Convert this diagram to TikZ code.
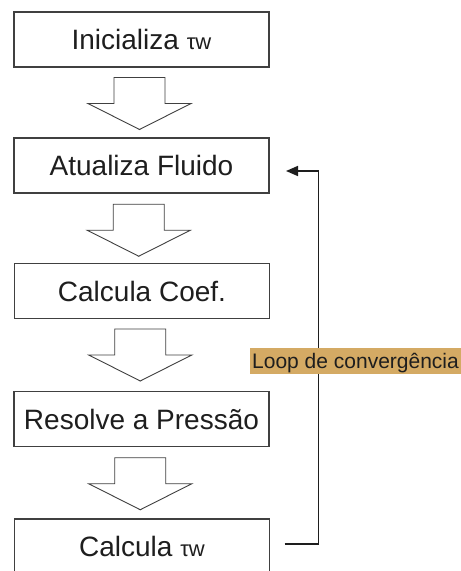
\documentclass[tikz,border=0pt]{standalone}
\usepackage{fontspec}
\setmainfont{Liberation Sans}
\usetikzlibrary{calc,arrows.meta}
\definecolor{labelbg}{RGB}{212,170,100}
\definecolor{boxline}{RGB}{64,64,64}
\definecolor{txt}{RGB}{30,30,30}
\newcommand{\mytauw}{{\fontsize{22}{24}\selectfont τw}}
\begin{document}
\begin{tikzpicture}[x=1pt,y=-1pt,
  stepbox/.style={draw=boxline, line width=1.2pt, minimum width=255pt,
    minimum height=55pt, inner sep=0pt, outer sep=0pt,
    font=\fontsize{28}{30}\selectfont, text height=20pt, text depth=0pt, text=txt},
  arrowline/.style={draw=boxline, line width=0.9pt, fill=white, line join=miter},
  loopline/.style={draw=txt, line width=1.6pt,
    -{Triangle[length=12pt,width=10pt]}},
  looplabel/.style={fill=labelbg, font=\fontsize{21}{23}\selectfont, text=txt,
    inner xsep=2pt, inner ysep=1pt, text height=19pt, text depth=4.5pt},
  blockarrow/.pic={\draw[arrowline] (-25.5,-26) -- (25.5,-26) -- (25.5,0) -- (51.5,0)
      -- (0,26) -- (-51.5,0) -- (-25.5,0) -- cycle;}
]
\useasboundingbox (0,0) rectangle (461,571);
\fill[white] (0,0) rectangle (461,571);
\clip (0,0) rectangle (461,571);

\node[stepbox] (b1) at (141.5,39.5) {Inicializa \mytauw};
\node[stepbox] (b2) at (141.5,165.5) {Atualiza Fluido};
\node[stepbox] (b3) at (142,291) {Calcula Coef.};
\node[stepbox] (b4) at (141.5,419) {Resolve a Pressão};
\node[stepbox] (b5) at (142,546.5) {Calcula \mytauw};

\pic at ($(b1.south)!0.5!(b2.north)+(-2,1)$) {blockarrow};
\pic at ($(b2.south)!0.5!(b3.north)+(-3,2)$) {blockarrow};
\pic at ($(b3.south)!0.5!(b4.north)+(-1.5,0)$) {blockarrow};
\pic at ($(b4.south)!0.5!(b5.north)+(-1.5,1)$) {blockarrow};

\coordinate (ls) at ([xshift=15pt,yshift=2.5pt]b5.east);
\coordinate (le) at ([xshift=17pt,yshift=-5.5pt]b2.east);
\draw[loopline] (ls) -- ++(34,0) |- (le);

\node[looplabel, anchor=west] (lbl) at (250,361) {Loop de convergência};
\end{tikzpicture}
\end{document}
